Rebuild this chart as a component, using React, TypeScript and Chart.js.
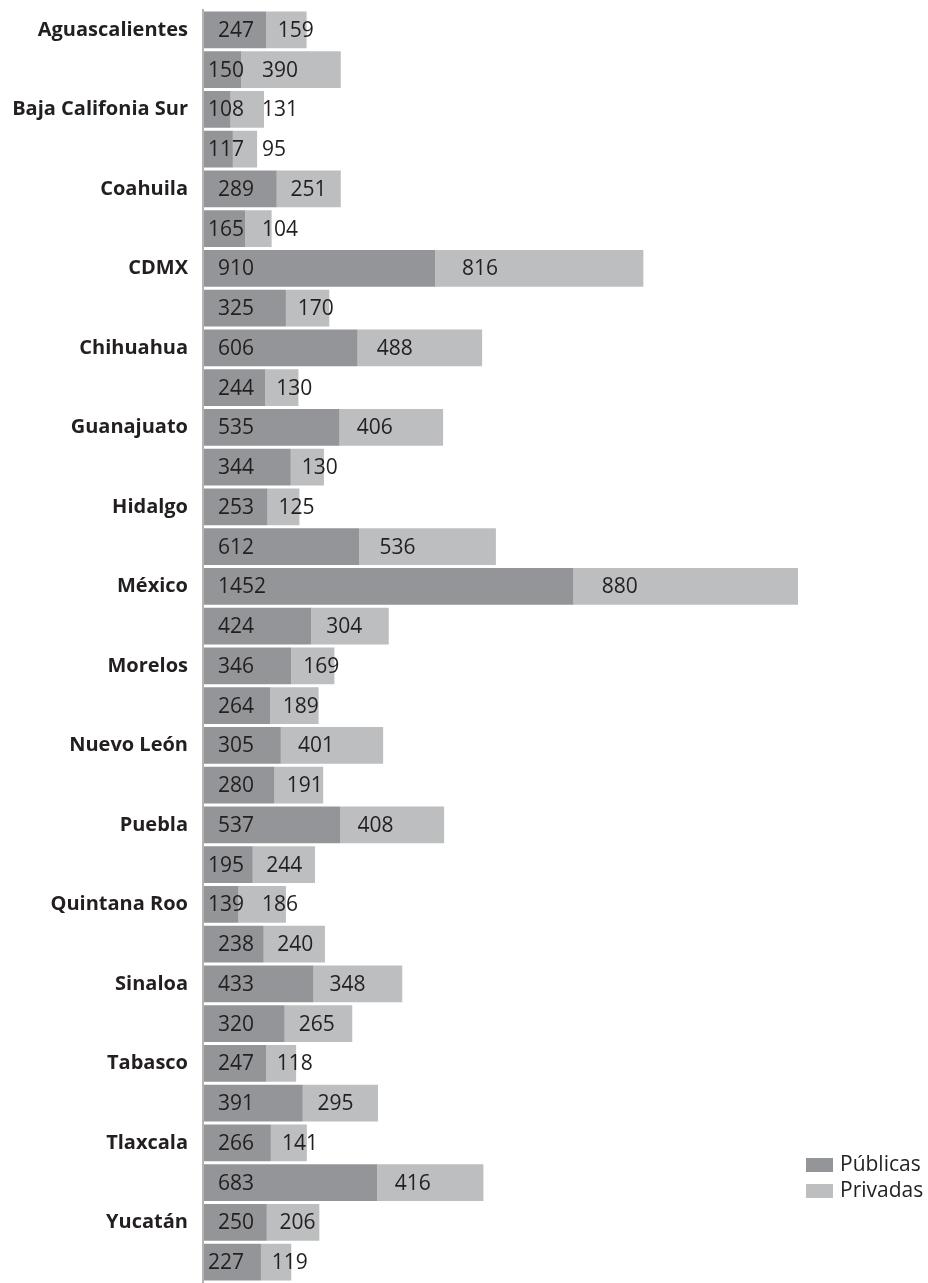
import React, { useEffect, useRef } from "react";
import { Chart, registerables } from "chart.js";

Chart.register(...registerables);

const states = [
  "Aguascalientes", "Baja California", "Baja Califonia Sur", "Campeche",
  "Coahuila", "Colima", "CDMX", "Chiapas",
  "Chihuahua", "Durango", "Guanajuato", "Guerrero",
  "Hidalgo", "Jalisco", "México", "Michoacán",
  "Morelos", "Nayarit", "Nuevo León", "Oaxaca",
  "Puebla", "Querétaro", "Quintana Roo", "San Luis Potosí",
  "Sinaloa", "Sonora", "Tabasco", "Tamaulipas",
  "Tlaxcala", "Veracruz", "Yucatán", "Zacatecas",
];

const publicas = [
  247, 150, 108, 117, 289, 165, 910, 325,
  606, 244, 535, 344, 253, 612, 1452, 424,
  346, 264, 305, 280, 537, 195, 139, 238,
  433, 320, 247, 391, 266, 683, 250, 227,
];

const privadas = [
  159, 390, 131, 95, 251, 104, 816, 170,
  488, 130, 406, 130, 125, 536, 880, 304,
  169, 189, 401, 191, 408, 244, 186, 240,
  348, 265, 118, 295, 141, 416, 206, 119,
];

const seriesNames = ["Públicas", "Privadas"];
const seriesColors = ["#939598", "#bcbec0"];
const textColor = "#231f20";
const FONT = "'Open Sans', sans-serif";

const valueLabels = {
  id: "valueLabels",
  afterDatasetsDraw(chart: any) {
    const ctx = chart.ctx;
    ctx.save();
    ctx.font = `21px ${FONT}`;
    ctx.fillStyle = textColor;
    ctx.textAlign = "left";
    ctx.textBaseline = "middle";
    const pubRight: number[] = [];
    chart.data.datasets.forEach((ds: any, di: number) => {
      const meta = chart.getDatasetMeta(di);
      meta.data.forEach((el: any, i: number) => {
        const start = Math.min(el.base, el.x);
        const w = Math.abs(el.x - el.base);
        const txt = String(ds.data[i]);
        const tw = ctx.measureText(txt).width;
        let x: number;
        if (di === 0) {
          x = start + (w >= 60 ? 15 : 5);
          pubRight[i] = x + tw;
        } else {
          x = Math.max(start + 8 + 0.09 * w, (pubRight[i] || 0) + 18);
        }
        ctx.fillText(txt, x, el.y + 1);
      });
    });
    ctx.restore();
  },
};

const sideLegend = {
  id: "sideLegend",
  afterDraw(chart: any) {
    const ctx = chart.ctx;
    const area = chart.chartArea;
    const x0 = area.right + 8;
    const y0 = area.bottom - 124;
    ctx.save();
    ctx.font = `21px ${FONT}`;
    ctx.textAlign = "left";
    ctx.textBaseline = "middle";
    chart.data.datasets.forEach((ds: any, i: number) => {
      const y = y0 + i * 26;
      ctx.fillStyle = ds.backgroundColor;
      ctx.fillRect(x0, y, 27, 14);
      ctx.fillStyle = textColor;
      ctx.fillText(ds.label, x0 + 34, y + 7);
    });
    ctx.restore();
  },
};

export default function App() {
  const ref = useRef<HTMLCanvasElement | null>(null);

  useEffect(() => {
    if (!ref.current) return;
    const totals = publicas.map((v, i) => v + privadas[i]);
    const chart = new Chart(ref.current, {
      type: "bar",
      data: {
        labels: states,
        datasets: [
          {
            label: seriesNames[0],
            data: publicas,
            backgroundColor: seriesColors[0],
            categoryPercentage: 1,
            barPercentage: 0.93,
          },
          {
            label: seriesNames[1],
            data: privadas,
            backgroundColor: seriesColors[1],
            categoryPercentage: 1,
            barPercentage: 0.93,
          },
        ],
      },
      options: {
        indexAxis: "y",
        animation: false,
        responsive: true,
        maintainAspectRatio: false,
        layout: { padding: { top: 10, bottom: 1, right: 130, left: 0 } },
        plugins: {
          legend: { display: false },
          tooltip: { enabled: false },
        },
        scales: {
          x: {
            stacked: true,
            display: false,
            min: 0,
            max: Math.max(...totals),
          },
          y: {
            stacked: true,
            grid: { display: false, drawTicks: false },
            border: { display: true, color: "#b3b3b3", width: 2, z: 1 },
            afterFit: (scale: any) => {
              scale.width = 203;
              scale.paddingTop = 0;
              scale.paddingBottom = 0;
            },
            ticks: {
              autoSkip: false,
              padding: 15,
              color: textColor,
              font: { family: FONT, size: 20, weight: "bold" },
              callback: (_v: any, i: number) => (i % 2 === 0 ? states[i] : ""),
            },
          },
        },
      },
      plugins: [valueLabels, sideLegend],
    });
    return () => chart.destroy();
  }, []);

  return (
    <div style={{ position: "absolute", left: 0, top: 0, width: 928, height: 1283 }}>
      <canvas ref={ref} />
    </div>
  );
}
